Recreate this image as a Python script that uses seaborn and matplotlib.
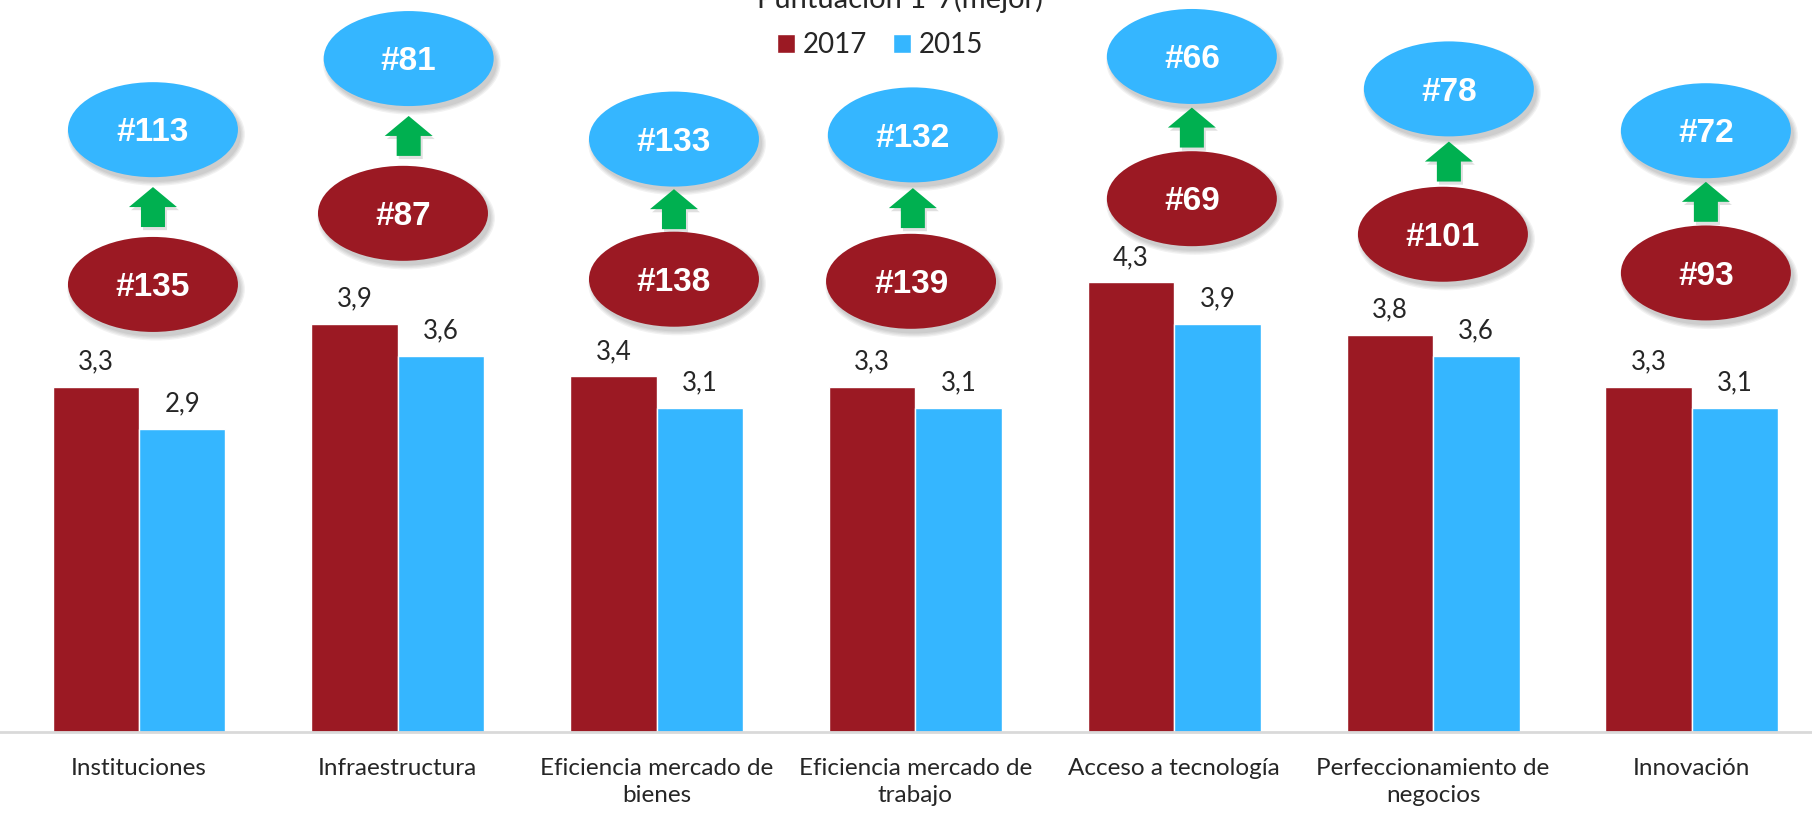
import numpy as np
import pandas as pd
import seaborn as sns
import matplotlib.pyplot as plt
from matplotlib.patches import Ellipse, Polygon

# Datos
categorias = ['Instituciones', 'Infraestructura', 'Eficiencia mercado de\nbienes',
              'Eficiencia mercado de\ntrabajo', 'Acceso a tecnología',
              'Perfeccionamiento de\nnegocios', 'Innovación']
puntaje_2017 = [3.3, 3.9, 3.4, 3.3, 4.3, 3.8, 3.3]
puntaje_2015 = [2.9, 3.6, 3.1, 3.1, 3.9, 3.6, 3.1]
ranking_rojo = [135, 87, 138, 139, 69, 101, 93]
ranking_azul = [113, 81, 133, 132, 66, 78, 72]

# Posición de los óvalos (unidades de datos)
ovalo_dx_azul = [0.054, 0.042, 0.067, -0.010, 0.068, 0.061, 0.054]
ovalo_dx_rojo = [0.054, 0.020, 0.067, -0.017, 0.068, 0.038, 0.054]
ovalo_y_azul = [5.76, 6.44, 5.67, 5.71, 6.46, 6.15, 5.75]
ovalo_y_rojo = [4.28, 4.96, 4.33, 4.31, 5.10, 4.76, 4.39]

rojo = '#9B1923'
azul = '#35B6FF'
verde = '#00B050'

sns.set_theme(style='white')
plt.rcParams['font.family'] = ['Lato', 'DejaVu Sans']

df = pd.DataFrame({
    'categoria': categorias * 2,
    'anio': ['2017'] * len(categorias) + ['2015'] * len(categorias),
    'puntaje': puntaje_2017 + puntaje_2015,
})

fig = plt.figure(figsize=(18.12, 8.13), dpi=100)
ax = fig.add_axes([0, 81 / 813, 1, 732 / 813])

sns.barplot(data=df, x='categoria', y='puntaje', hue='anio',
            palette={'2017': rojo, '2015': azul}, width=0.668, gap=0,
            saturation=1, ax=ax)

ax.set_xlim(-0.537, 6.464)
ax.set_ylim(0, 7)

# Etiquetas de valores
for cont in ax.containers:
    ax.bar_label(cont, labels=[f'{b.get_height():.1f}'.replace('.', ',') for b in cont],
                 padding=9, fontsize=18.5)

# Ejes
for s in ['left', 'right', 'top']:
    ax.spines[s].set_visible(False)
ax.spines['bottom'].set_color('#D9D9D9')
ax.spines['bottom'].set_linewidth(2)
ax.set_yticks([])
ax.set_xlabel('')
ax.set_ylabel('')
ax.tick_params(axis='x', length=0, pad=19, labelsize=17.5)
for lbl in ax.get_xticklabels():
    lbl.set_multialignment('center')
    lbl.set_linespacing(1.35)

# Óvalos y flechas
ancho_ov = 170 / 258.83
alto_ov = 95 / 104.57


def ovalo(x, y, color, texto):
    for k in range(4):
        ax.add_patch(Ellipse((x + 0.012, y - 0.045), ancho_ov + 0.01 * k, alto_ov + 0.025 * k,
                             color='black', alpha=0.05, lw=0, zorder=3, clip_on=False))
    ax.add_patch(Ellipse((x, y), ancho_ov, alto_ov, color=color, lw=0, zorder=4, clip_on=False))
    ax.text(x, y - 0.03, texto, ha='center', va='center', color='white', fontsize=24,
            fontweight='bold', family='Liberation Sans', zorder=5)


for i in range(len(categorias)):
    xa = i + ovalo_dx_azul[i]
    xr = i + ovalo_dx_rojo[i]
    ovalo(xa, ovalo_y_azul[i], azul, f'#{ranking_azul[i]}')
    ovalo(xr, ovalo_y_rojo[i], rojo, f'#{ranking_rojo[i]}')
    ym = (ovalo_y_azul[i] + ovalo_y_rojo[i]) / 2
    hw, sw, hh = 0.0927, 0.0464, 0.191
    pts = [(xa - sw, ym - hh), (xa + sw, ym - hh), (xa + sw, ym), (xa + hw, ym),
           (xa, ym + hh), (xa - hw, ym), (xa - sw, ym)]
    sombra = [(px + 0.008, py - 0.03) for px, py in pts]
    ax.add_patch(Polygon(sombra, closed=True, color='black', alpha=0.12, lw=0, zorder=3))
    ax.add_patch(Polygon(pts, closed=True, color=verde, lw=0, zorder=4))

# Leyenda y título
ax.legend(loc='center', bbox_to_anchor=(880 / 1812, 1 - 45 / 813),
          bbox_transform=fig.transFigure, ncol=2, frameon=False, fontsize=20,
          handlelength=0.65, handleheight=0.65, handletextpad=0.3, columnspacing=0.9)
fig.text(900 / 1812, 1 - 8 / 813, 'Puntuación 1-7(mejor)', ha='center', va='baseline',
         fontsize=21)

plt.savefig('out.png', dpi=100)
